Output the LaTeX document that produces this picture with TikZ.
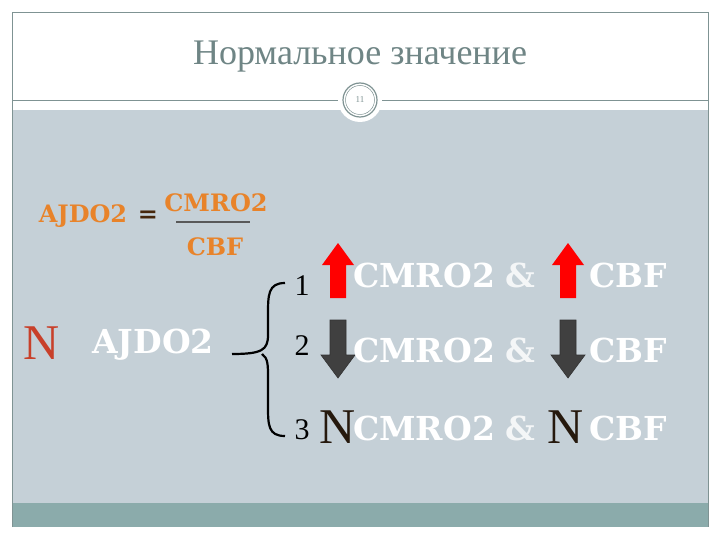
\documentclass[tikz,border=0pt]{standalone}
\usepackage{fontspec}
\setmainfont{Liberation Serif}
\newfontfamily\bigserif{DejaVu Serif}
\usetikzlibrary{arrows.meta}
\definecolor{panel}{HTML}{C5D0D7}
\definecolor{band}{HTML}{8BABAB}
\definecolor{frame}{HTML}{7F9393}
\definecolor{titlec}{HTML}{6F8585}
\definecolor{orng}{HTML}{E8832A}
\definecolor{darkarrow}{HTML}{404040}
\definecolor{redN}{HTML}{C8402A}
\tikzset{
  wtext/.style={font=\bigserif\bfseries\fontsize{33}{33}\selectfont, text=white, inner sep=0pt},
  amp/.style={font=\bigserif\bfseries\fontsize{33}{33}\selectfont, text=white!80!panel, inner sep=0pt},
  num/.style={font=\fontsize{30}{30}\selectfont, text=black, inner sep=0pt},
  otext/.style={font=\bigserif\bfseries\fontsize{24}{24}\selectfont, text=orng, inner sep=0pt},
  bigN/.style={font=\fontsize{50}{50}\selectfont, inner sep=0pt}
}
\begin{document}
\begin{tikzpicture}[x=1pt,y=-1pt]
\useasboundingbox (0,0) rectangle (720,540);
\fill[white] (0,0) rectangle (720,540);
\fill[panel] (12,110) rectangle (708,503);
\fill[band] (12,503) rectangle (708,527);
\draw[frame, line width=0.6pt] (12,527) -- (12,12) -- (708,12) -- (708,527);
\draw[frame, line width=0.8pt] (12,100) -- (708,100);
\fill[white] (360,100) circle (22);
\draw[frame, line width=1.2pt] (360,100) circle (17);
\draw[frame, line width=0.5pt] (360,100) circle (14.5);
\node[text=frame, font=\fontsize{9}{9}\selectfont] (pg) at (360,100) {11};
\node[text=titlec, font=\fontsize{36}{36}\selectfont] (title) at (360,57) {Нормальное значение};
% formula
\node[otext] (f1) at (83,216) {AJDO2};
\node[otext, text=black!70!orng] (feq) at (148,217) {=};
\node[otext] (fnum) at (216,203) {CMRO2};
\node[otext] (fden) at (215,247) {CBF};
\draw[gray!70!black, line width=1.2pt] (176,222) -- (250,222);
% left side
\node[bigN, text=redN] (nl) at (42,343) {N};
\node[wtext] (ajdo) at (153,345) {AJDO2};
% brace
\draw[black, line width=2.2pt] (285,283) .. controls (268,283) and (268,295) .. (268,315)
  -- (268,335) .. controls (268,350) and (262,354) .. (232,354)
  (262,354) .. controls (268,358) and (268,365) .. (268,378)
  -- (268,405) .. controls (268,425) and (268,436) .. (285,436);
\node[num] (n1) at (302,286) {1};
\node[num] (n2) at (302,346) {2};
\node[num] (n3) at (302,430) {3};
\foreach \cx in {338,568}{
  \fill[red] (\cx-8,298) -- (\cx-8,265) -- (\cx-16,265) -- (\cx,243) -- (\cx+16,265) -- (\cx+8,265) -- (\cx+8,298) -- cycle;
  \fill[darkarrow, draw=black!80, line width=0.6pt] (\cx-8,320) -- (\cx-8,355) -- (\cx-17,355) -- (\cx,378) -- (\cx+17,355) -- (\cx+8,355) -- (\cx+8,320) -- cycle;
}
\node[bigN, text=black!80!brown] (n3a) at (338,427) {N};
\node[bigN, text=black!80!brown] (n3b) at (566,427) {N};
\foreach \yy/\nm in {275/a,350/b,428/c}{
  \node[wtext] (cm\nm) at (424,\yy) {CMRO2};
  \node[amp] (am\nm) at (520,\yy) {\&};
  \node[wtext] (cb\nm) at (628,\yy) {CBF};
}
\end{tikzpicture}
\end{document}
